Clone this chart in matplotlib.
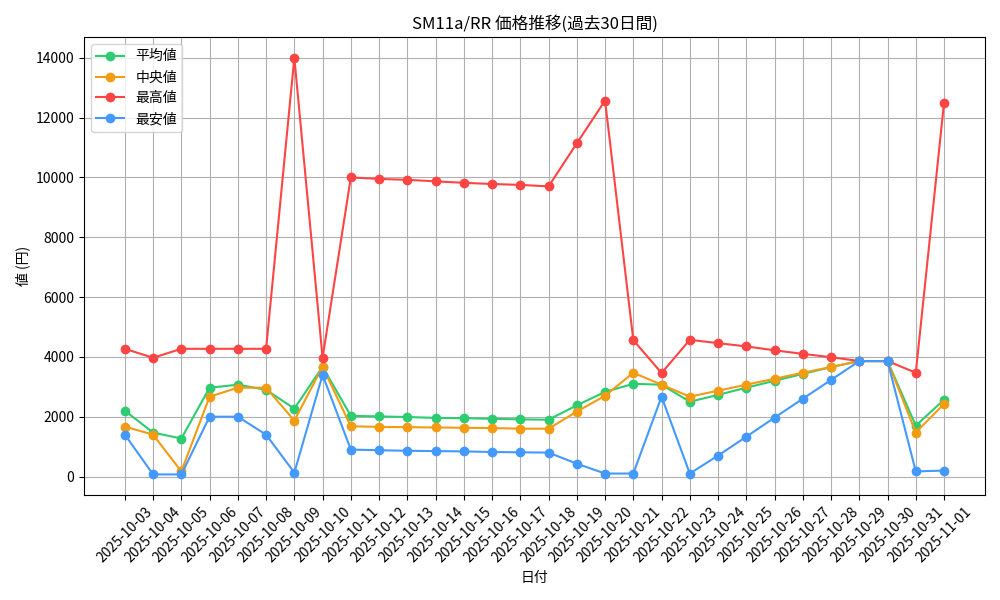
import matplotlib
matplotlib.use("Agg")
import matplotlib.pyplot as plt
import pandas as pd

plt.rcParams['font.family'] = ['Noto Sans CJK JP', 'DejaVu Sans']

dates = [d.strftime("%Y-%m-%d") for d in pd.date_range("2025-10-03", "2025-11-01")]

mean_vals = [2200, 1470, 1270, 2970, 3070, 2900, 2270, 3670, 2030, 2010, 1990, 1960, 1950, 1930, 1910,
             1900, 2380, 2830, 3100, 3070, 2500, 2730, 2970, 3200, 3430, 3660, 3860, 3860, 1700, 2570]
median_vals = [1670, 1400, 170, 2670, 2970, 2970, 1870, 3670, 1680, 1660, 1650, 1640, 1630, 1620, 1600,
               1600, 2170, 2700, 3470, 3070, 2670, 2870, 3070, 3270, 3470, 3660, 3860, 3860, 1470, 2430]
max_vals = [4270, 3970, 4270, 4270, 4270, 4270, 14000, 3970, 10000, 9950, 9920, 9870, 9820, 9780, 9750,
            9700, 11140, 12570, 4560, 3460, 4570, 4460, 4350, 4220, 4100, 3990, 3860, 3860, 3470, 12500]
min_vals = [1400, 70, 70, 2000, 2000, 1400, 130, 3400, 900, 880, 860, 850, 840, 820, 810,
            800, 430, 100, 100, 2670, 100, 700, 1330, 1970, 2600, 3230, 3860, 3860, 170, 200]

fig, ax = plt.subplots(figsize=(10, 6), dpi=100)
ax.plot(dates, mean_vals, marker="o", color="#2ecc71", label="平均値")
ax.plot(dates, median_vals, marker="o", color="#f39c12", label="中央値")
ax.plot(dates, max_vals, marker="o", color="#ff4444", label="最高値")
ax.plot(dates, min_vals, marker="o", color="#4499ff", label="最安値")

ax.set_title("SM11a/RR 価格推移(過去30日間)")
ax.set_xlabel("日付")
ax.set_ylabel("値 (円)")
ax.grid(True)
ax.legend(loc="upper left")
plt.xticks(rotation=45)
plt.tight_layout()
plt.savefig("out.png")
